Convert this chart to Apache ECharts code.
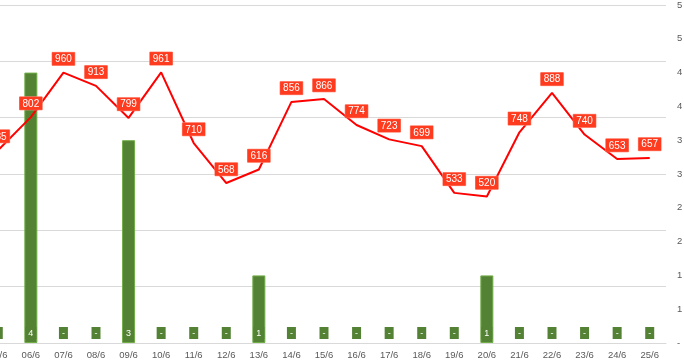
<!DOCTYPE html>
<html>
<head>
<meta charset="utf-8">
<script src="https://cdn.jsdelivr.net/npm/echarts@6/dist/echarts.min.js"></script>
<style>
html,body{margin:0;padding:0;background:#fff;overflow:hidden;width:684px;height:361px;}
#wrap{position:relative;width:684px;height:361px;overflow:hidden;}
#c{position:absolute;left:-18px;top:0;width:720px;height:361px;}
</style>
</head>
<body>
<div id="wrap"><div id="c"></div></div>
<script>
const categories = ['05/6','06/6','07/6','08/6','09/6','10/6','11/6','12/6','13/6','14/6','15/6','16/6','17/6','18/6','19/6','20/6','21/6','22/6','23/6','24/6','25/6'];
const lineValues = [685,802,960,913,799,961,710,568,616,856,866,774,723,699,533,520,748,888,740,653,657];
const barValues = [0,4,0,0,3,0,0,0,1,0,0,0,0,0,0,1,0,0,0,0,0];

const chart = echarts.init(document.getElementById('c'));
chart.setOption({
  animation: false,
  grid: {left: 0, right: 36, top: 1.5, bottom: 18, containLabel: false},
  xAxis: {
    type: 'category',
    data: categories,
    axisLine: {lineStyle: {color: '#D9D9D9'}},
    axisTick: {show: false},
    axisLabel: {color: '#595959', fontSize: 9.5, fontFamily: 'Liberation Sans', margin: 7}
  },
  yAxis: [
    {
      type: 'value', min: 0, max: 1200, interval: 200,
      axisLabel: {show: false}, axisLine: {show: false}, axisTick: {show: false},
      splitLine: {lineStyle: {color: '#D9D9D9', width: 1}}
    },
    {
      type: 'value', min: 0, max: 5, interval: 0.5, position: 'right',
      axisLine: {show: false}, axisTick: {show: false}, splitLine: {show: false},
      axisLabel: {
        color: '#595959', fontSize: 9.5, fontFamily: 'Liberation Sans', margin: 11,
        formatter: v => v === 0 ? '-' : String(Math.round(v))
      }
    }
  ],
  series: [
    {
      type: 'bar', yAxisIndex: 1, barWidth: 13,
      data: barValues.map(v => ({value: v, itemStyle: {borderWidth: v === 0 ? 0 : 1}})),
      itemStyle: {color: '#548235', borderColor: '#70AD47', borderWidth: 1},
      label: {
        show: true, position: 'insideBottom', distance: 4,
        formatter: p => p.value === 0 ? '-' : String(p.value),
        color: '#fff', fontSize: 9, fontFamily: 'Liberation Sans',
        backgroundColor: '#548235', padding: [2, 3, 1, 3]
      },
      z: 1
    },
    {
      type: 'line', yAxisIndex: 0, data: lineValues,
      symbol: 'circle', symbolSize: 0.5, showSymbol: true,
      itemStyle: {color: '#FF0000'},
      lineStyle: {color: '#FF0000', width: 2},
      label: {
        show: true, position: 'top', distance: 7,
        color: '#fff', fontSize: 10, fontFamily: 'Liberation Sans',
        backgroundColor: '#FF3B1F', borderColor: '#FF8A78', borderWidth: 0.5,
        padding: [2, 3, 1, 3]
      },
      labelLayout: {hideOverlap: false},
      z: 3
    }
  ]
});
</script>
</body>
</html>
